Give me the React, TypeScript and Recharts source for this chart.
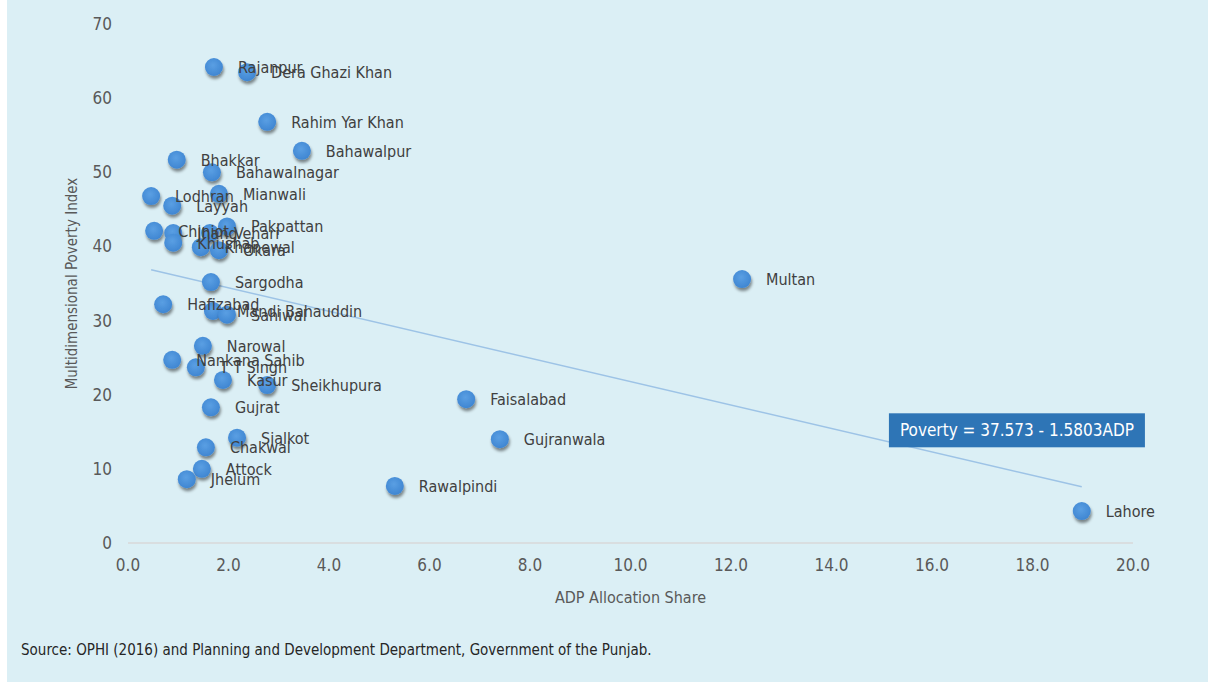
import React from "react";
import {
  ScatterChart,
  Scatter,
  XAxis,
  YAxis,
  ZAxis,
  ReferenceLine,
  ReferenceDot,
  LabelList,
} from "recharts";

const districts = [
  "Rajanpur", "Dera Ghazi Khan", "Rahim Yar Khan", "Bahawalpur", "Bhakkar", "Bahawalnagar",
  "Lodhran", "Layyah", "Mianwali", "Chiniot", "Jhang", "Khushab", "Vehari", "Pakpattan",
  "Khanewal", "Okara", "Sargodha", "Multan", "Hafizabad", "Mandi Bahauddin", "Sahiwal",
  "Narowal", "Nankana Sahib", "T T Singh", "Kasur", "Sheikhupura", "Gujrat", "Sialkot",
  "Chakwal", "Attock", "Jhelum", "Rawalpindi", "Faisalabad", "Gujranwala", "Lahore",
];
const adpShare = [
  1.71, 2.37, 2.77, 3.46, 0.97, 1.67,
  0.46, 0.88, 1.81, 0.52, 0.9, 0.9, 1.63, 1.97,
  1.45, 1.81, 1.65, 12.22, 0.7, 1.69, 1.97,
  1.49, 0.88, 1.35, 1.89, 2.77, 1.65, 2.17,
  1.55, 1.47, 1.17, 5.31, 6.73, 7.4, 18.98,
];
const povertyIndex = [
  64.2, 63.5, 56.8, 52.9, 51.7, 50.0,
  46.8, 45.5, 47.1, 42.1, 41.8, 40.5, 41.8, 42.7,
  39.9, 39.5, 35.2, 35.6, 32.2, 31.3, 30.8,
  26.6, 24.7, 23.7, 22.0, 21.3, 18.3, 14.2,
  12.9, 10.0, 8.6, 7.7, 19.4, 14.0, 4.3,
];
const xTicks = [0, 2, 4, 6, 8, 10, 12, 14, 16, 18, 20];
const yTicks = [0, 10, 20, 30, 40, 50, 60, 70];
const TREND_INTERCEPT = 37.573;
const TREND_SLOPE = -1.5803;
const trendText = "Poverty = 37.573 - 1.5803ADP";
const trendLabelPos = { x: 17.69, y: 15.2 };

const data = districts.map((name, i) => ({ name, x: adpShare[i], y: povertyIndex[i] }));
const xMin = Math.min(...adpShare);
const xMax = Math.max(...adpShare);

const FONT = "'Liberation Sans Narrow', 'Arial Narrow', 'DejaVu Sans Condensed', 'Liberation Sans', sans-serif";
const BG = "#DBEFF5";

const PointShape = (props: any) => {
  const { cx, cy } = props;
  if (cx == null || cy == null) return null;
  return (
    <circle cx={cx} cy={cy} r={9} fill="url(#ptGrad)" filter="url(#ptShadow)" />
  );
};

const PointLabel = (props: any) => {
  const { x, y, width, height, value } = props;
  const cx = x + width / 2;
  const cy = y + height / 2;
  return (
    <text x={cx + 24} y={cy + 6} fontSize={16} fill="#404040" fontFamily={FONT}>
      {value}
    </text>
  );
};

const TrendBox = (props: any) => {
  const { cx, cy } = props;
  if (cx == null) return null;
  return (
    <g>
      <rect x={cx - 128} y={cy - 17} width={256} height={34} fill="#2E75B6" />
      <text x={cx} y={cy + 6} textAnchor="middle" fontSize={17} fill="#FFFFFF" fontFamily={FONT}>
        {trendText}
      </text>
    </g>
  );
};

export default function App() {
  return (
    <div
      style={{
        position: "absolute",
        left: 7,
        top: 0,
        width: 1201,
        height: 682,
        background: BG,
        fontFamily: FONT,
      }}
    >
      <ScatterChart
        width={1201}
        height={682}
        margin={{ top: 24, right: 75, bottom: 109, left: 61 }}
      >
        <defs>
          <radialGradient id="ptGrad" cx="45%" cy="40%" r="60%">
            <stop offset="0%" stopColor="#5A9FE3" />
            <stop offset="100%" stopColor="#3F86D2" />
          </radialGradient>
          <filter id="ptShadow" x="-50%" y="-50%" width="200%" height="200%">
            <feDropShadow dx="1" dy="3" stdDeviation="1.6" floodColor="#000" floodOpacity="0.45" />
          </filter>
        </defs>
        <XAxis
          type="number"
          dataKey="x"
          domain={[0, 20]}
          ticks={xTicks}
          tickFormatter={(v: number) => v.toFixed(1)}
          axisLine={{ stroke: "#D9D9D9", strokeWidth: 1.5 }}
          tickLine={false}
          tick={{ fill: "#595959", fontSize: 17, fontFamily: FONT }}
          tickMargin={10}
          height={30}
          label={{
            value: "ADP Allocation Share",
            position: "bottom",
            offset: 19,
            fill: "#595959",
            fontSize: 16,
            fontFamily: FONT,
          }}
        />
        <YAxis
          type="number"
          dataKey="y"
          domain={[0, 70]}
          ticks={yTicks}
          axisLine={false}
          tickLine={false}
          tickSize={0}
          tickMargin={16}
          width={60}
          tick={{ fill: "#595959", fontSize: 17, fontFamily: FONT }}
          label={{
            value: "Multidimensional Poverty Index",
            angle: -90,
            position: "insideLeft",
            offset: 4,
            fill: "#595959",
            fontSize: 15,
            fontFamily: FONT,
            style: { textAnchor: "middle" },
          }}
        />
        <ZAxis range={[254, 254]} />
        <ReferenceLine
          segment={[
            { x: xMin, y: TREND_INTERCEPT + TREND_SLOPE * xMin },
            { x: xMax, y: TREND_INTERCEPT + TREND_SLOPE * xMax },
          ]}
          stroke="#9DC3E6"
          strokeWidth={1.5}
          ifOverflow="visible"
        />
        <Scatter data={data} shape={PointShape} isAnimationActive={false}>
          <LabelList dataKey="name" content={PointLabel} />
        </Scatter>
        <ReferenceDot
          x={trendLabelPos.x}
          y={trendLabelPos.y}
          r={0}
          shape={TrendBox}
          ifOverflow="visible"
        />
      </ScatterChart>
      <div
        style={{
          position: "absolute",
          left: 14,
          top: 641,
          fontSize: 15,
          color: "#262626",
          fontFamily: FONT,
          whiteSpace: "nowrap",
        }}
      >
        Source: OPHI (2016) and Planning and Development Department, Government of the Punjab.
      </div>
    </div>
  );
}
